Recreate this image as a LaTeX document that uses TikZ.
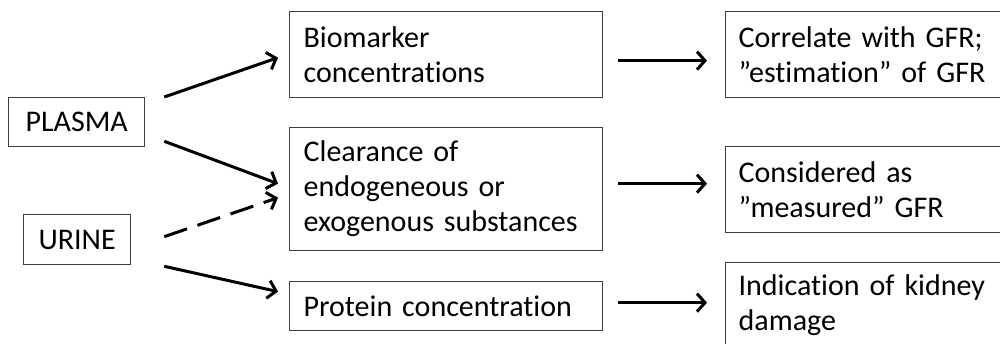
\documentclass[tikz,border=0pt]{standalone}
\usepackage{fontspec}
\setmainfont{Carlito}[Ligatures={NoCommon,NoRare,NoContextual}]
\usetikzlibrary{arrows.meta}
\begin{document}
\begin{tikzpicture}[x=1pt,y=-1pt,
  box/.style={draw=black!75,line width=1.3pt,anchor=north west,inner sep=0pt,
    font=\fontsize{30}{35}\selectfont},
  wbox/.style={box,align=left,inner xsep=14pt,text width=#1},
  conn/.style={line width=3pt,-{Straight Barb[length=8pt,width=18pt,line width=3pt]}},
  dconn/.style={conn,dash pattern=on 24pt off 11pt}]
\useasboundingbox (0,0) rectangle (1000,343);
\node[box,minimum width=136pt,minimum height=49pt] (plasma) at (8,97) {PLASMA};
\node[box,minimum width=107pt,minimum height=50pt] (urine) at (23,214) {URINE};
\node[wbox=285pt,minimum height=86pt] (bio) at (289,11) {Biomarker\\concentrations};
\node[wbox=285pt,minimum height=123pt] (clear) at (289,127) {Clearance of\\endogeneous or\\exogenous substances};
\node[wbox=285pt,minimum height=49pt] (prot) at (289,281) {Protein concentration};
\node[wbox=272pt,inner xsep=13pt,minimum height=86pt] (corr) at (725,11) {Correlate with GFR;\\”estimation” of GFR};
\node[wbox=272pt,inner xsep=13pt,minimum height=86pt] (cons) at (725,146) {Considered as\\”measured” GFR};
\node[wbox=272pt,inner xsep=13pt,minimum height=86pt] (ind) at (725,262) {Indication of kidney\\damage};
\draw[conn] ([xshift=19pt]plasma.north east) -- ([xshift=-11pt,yshift=-3pt]bio.west);
\draw[conn] ([xshift=19pt,yshift=6pt]plasma.south east) -- ([xshift=-11pt,yshift=5.5pt]clear.west);
\draw[dconn] ([xshift=33pt,yshift=3pt]urine.east) -- ([xshift=-11pt,yshift=-8.5pt]clear.west);
\draw[conn] ([xshift=33pt,yshift=-1pt]urine.south east) -- ([xshift=-11pt,yshift=14.5pt]prot.west);
\draw[conn] ([xshift=15pt,yshift=-6pt]bio.east) -- ([xshift=-18pt,yshift=-6pt]corr.west);
\draw[conn] ([xshift=15pt,yshift=5.5pt]clear.east) -- ([xshift=-18pt,yshift=6pt]cons.west);
\draw[conn] ([xshift=15pt,yshift=3.5pt]prot.east) -- ([xshift=-18pt,yshift=3pt]ind.west);
\end{tikzpicture}
\end{document}
